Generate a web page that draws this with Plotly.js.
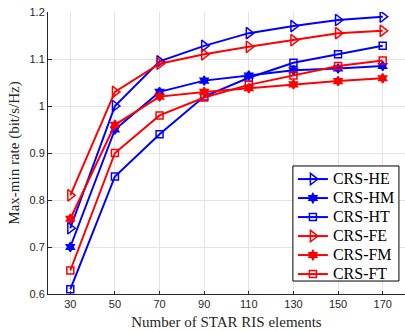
<!DOCTYPE html>
<html>
<head>
<meta charset="utf-8">
<script src="https://cdn.plot.ly/plotly-3.0.1.min.js"></script>
<style>
html,body{margin:0;padding:0;background:#fff;}
#chart{width:405px;height:331px;}
#chart .legend .legendtext{font-size:16px !important;font-family:"Liberation Serif","Times New Roman",serif !important;}
#chart .legend .scrollbox{clip-path:none !important;}
</style>
</head>
<body>
<div id="chart"></div>
<script>
const elements = [30, 50, 70, 90, 110, 130, 150, 170];
const crsHE = [0.74, 1.00, 1.095, 1.128, 1.155, 1.170, 1.183, 1.190];
const crsHM = [0.70, 0.95, 1.030, 1.054, 1.065, 1.076, 1.080, 1.085];
const crsHT = [0.61, 0.85, 0.940, 1.020, 1.060, 1.092, 1.110, 1.128];
const crsFE = [0.81, 1.03, 1.090, 1.110, 1.126, 1.140, 1.155, 1.160];
const crsFM = [0.76, 0.96, 1.020, 1.030, 1.038, 1.046, 1.053, 1.059];
const crsFT = [0.65, 0.90, 0.980, 1.018, 1.045, 1.065, 1.085, 1.097];
const seriesNames = ['CRS-HE', 'CRS-HM', 'CRS-HT', 'CRS-FE', 'CRS-FM', 'CRS-FT'];
const xTicks = [30, 50, 70, 90, 110, 130, 150, 170];
const yTicks = [0.6, 0.7, 0.8, 0.9, 1.0, 1.1, 1.2];
const yTickText = ['0.6', '0.7', '0.8', '0.9', '1', '1.1', '1.2'];

const blue = '#0000ff', red = '#ff0000';
function tr(name, y, color, symbol, size) {
  return {
    x: elements, y: y, name: name, type: 'scatter', mode: 'lines+markers',
    line: {color: color, width: 2},
    marker: {symbol: symbol, size: size, color: color, line: {color: color, width: 1.5}}
  };
}
const data = [
  tr(seriesNames[0], crsHE, blue, 'triangle-right-open', 10),
  tr(seriesNames[1], crsHM, blue, 'hexagram', 7),
  tr(seriesNames[2], crsHT, blue, 'square-open', 7),
  tr(seriesNames[3], crsFE, red, 'triangle-right-open', 10),
  tr(seriesNames[4], crsFM, red, 'hexagram', 7),
  tr(seriesNames[5], crsFT, red, 'square-open', 7)
];
const serif = 'Liberation Serif';
const sans = 'Liberation Sans';
const layout = {
  width: 405, height: 331,
  margin: {l: 48, r: 0, t: 12, b: 37},
  paper_bgcolor: '#fff', plot_bgcolor: '#fff',
  showlegend: true,
  legend: {
    x: 0.686, y: 0.459, xanchor: 'left', yanchor: 'top',
    bgcolor: 'rgba(0,0,0,0)', borderwidth: 0,
    font: {family: serif, size: 12, color: '#000'},
    tracegroupgap: 0
  },
  shapes: [{
    type: 'rect', xref: 'paper', yref: 'paper', layer: 'above',
    x0: 0.686, x1: 0.983, y0: 0.046, y1: 0.454,
    fillcolor: '#fff', line: {color: '#000', width: 1}
  }],
  xaxis: {
    range: [20, 180], tickvals: xTicks, ticktext: xTicks.map(String),
    showgrid: true, gridcolor: '#e3e3e3', gridwidth: 1, zeroline: false,
    showline: true, linecolor: '#262626', linewidth: 1,
    ticks: 'inside', ticklen: 3, tickcolor: '#262626',
    tickfont: {family: sans, size: 11, color: '#262626'},
    title: {text: 'Number of STAR RIS elements', standoff: 7,
      font: {family: serif, size: 15, color: '#262626'}}
  },
  yaxis: {
    range: [0.6, 1.2], tickvals: yTicks, ticktext: yTickText,
    showgrid: true, gridcolor: '#e3e3e3', gridwidth: 1, zeroline: false,
    showline: true, linecolor: '#262626', linewidth: 1,
    ticks: 'inside', ticklen: 4, tickcolor: '#262626',
    tickfont: {family: sans, size: 11, color: '#262626'},
    title: {text: 'Max-min rate (bit/s/Hz)', standoff: 6,
      font: {family: serif, size: 15, color: '#262626'}}
  }
};
Plotly.newPlot('chart', data, layout, {displayModeBar: false, staticPlot: true});
</script>
</body>
</html>
